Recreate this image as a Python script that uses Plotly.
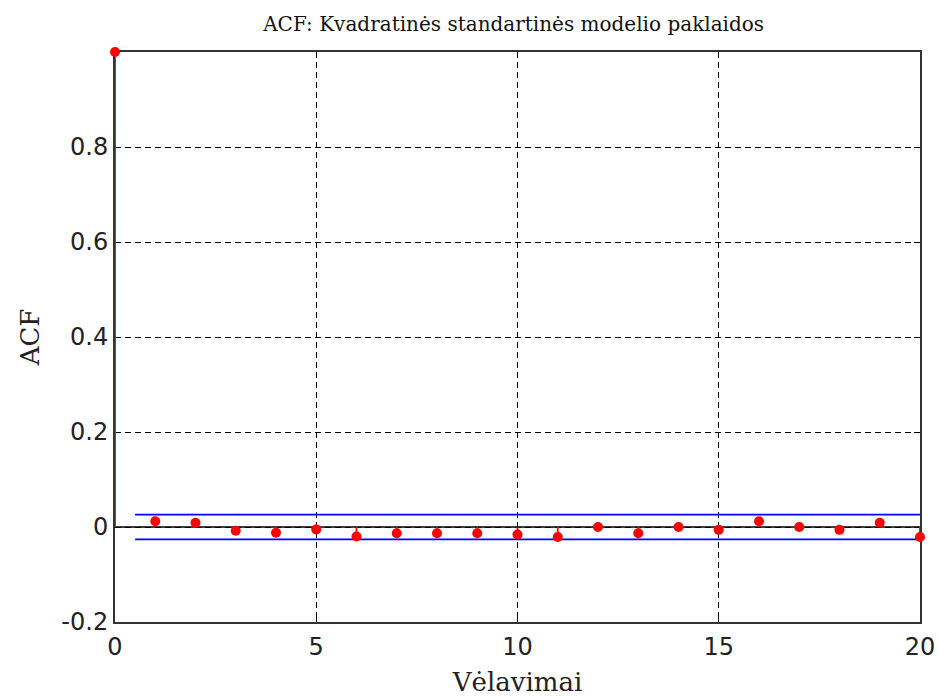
import plotly.graph_objects as go

lags = list(range(21))
acf = [1.0, 0.012, 0.009, -0.008, -0.012, -0.005, -0.020, -0.013, -0.013, -0.013,
       -0.016, -0.021, 0.0, -0.013, 0.0, -0.006, 0.012, 0.0, -0.006, 0.009, -0.021]
bound = 0.026
bound_x = [0.5, 20]
title_text = "ACF: Kvadratinės standartinės modelio paklaidos"
x_label = "Vėlavimai"
y_label = "ACF"
y_tickvals = [-0.2, 0, 0.2, 0.4, 0.6, 0.8]
y_ticktext = ["-0.2", "0", "0.2", "0.4", "0.6", "0.8"]
x_tickvals = [0, 5, 10, 15, 20]

# stems
sx, sy = [], []
for l, v in zip(lags, acf):
    sx += [l, l, None]
    sy += [0, v, None]

fig = go.Figure()
fig.add_trace(go.Scatter(x=[0, 20], y=[0, 0], mode="lines",
                         line=dict(color="black", width=1.6), hoverinfo="skip", showlegend=False))
fig.add_trace(go.Scatter(x=sx, y=sy, mode="lines", line=dict(color="red", width=1.8),
                         hoverinfo="skip", showlegend=False, cliponaxis=False))
fig.add_trace(go.Scatter(x=bound_x, y=[bound, bound], mode="lines",
                         line=dict(color="blue", width=1.6), showlegend=False))
fig.add_trace(go.Scatter(x=bound_x, y=[-bound, -bound], mode="lines",
                         line=dict(color="blue", width=1.6), showlegend=False))
fig.add_trace(go.Scatter(x=lags, y=acf, mode="markers",
                         marker=dict(color="red", size=10), showlegend=False, cliponaxis=False))

axis_common = dict(
    showline=True, linecolor="#333333", linewidth=2, mirror="ticks",
    ticks="inside", ticklen=6, tickcolor="black", tickwidth=1,
    showgrid=True, gridcolor="black", gridwidth=1.2, griddash="6px,4px",
    zeroline=False, automargin=False, ticklabeloverflow="allow", layer="below traces",
    tickfont=dict(family="DejaVu Sans", size=24, color="#222222"),
)

fig.update_xaxes(range=[0, 20], tickvals=x_tickvals, ticklabelstandoff=2,
                 title=dict(text=x_label, font=dict(family="DejaVu Serif", size=26, color="#222222"),
                            standoff=14),
                 **axis_common)
fig.update_yaxes(range=[-0.2, 1.0], tickvals=y_tickvals, ticktext=y_ticktext,
                 title=dict(text=y_label, font=dict(family="DejaVu Serif", size=26, color="#222222"),
                            standoff=14),
                 **axis_common)

fig.update_layout(
    width=939, height=697,
    margin=dict(l=115, r=19, t=52, b=75),
    plot_bgcolor="white", paper_bgcolor="white",
    title=dict(text=title_text, x=0.547, xanchor="center", y=0.965, yanchor="middle",
               font=dict(family="DejaVu Serif", size=20, color="#111111")),
)

fig.write_html("out.html", config={"displayModeBar": False},
               post_script="document.body.style.margin='0';document.body.style.overflow='hidden';")
